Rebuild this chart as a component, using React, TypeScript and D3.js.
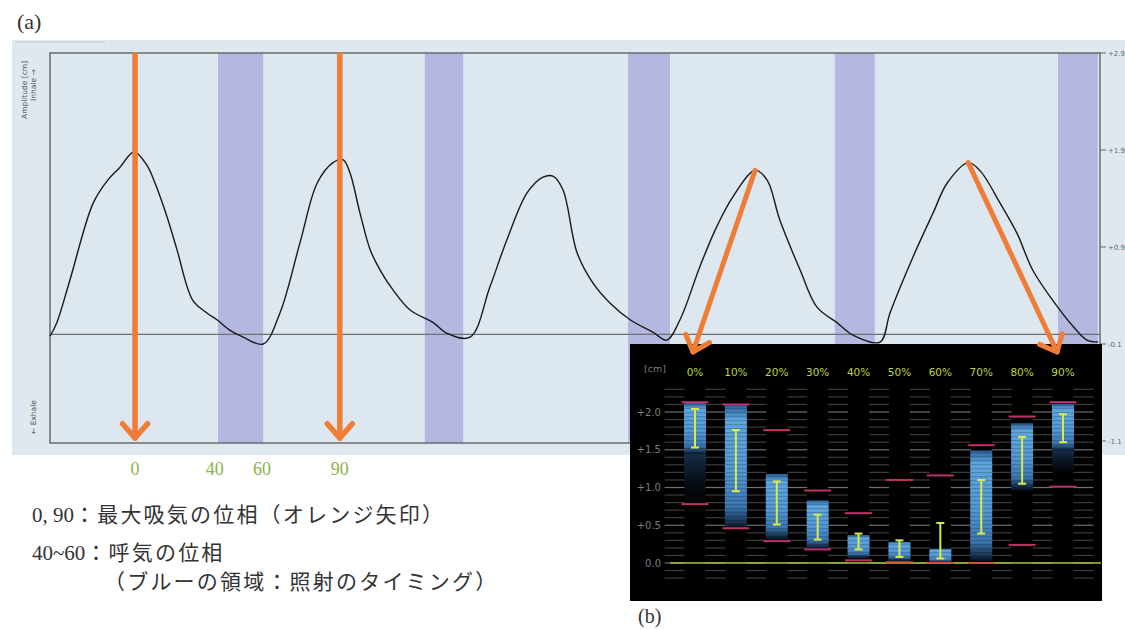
import React from "react";
import * as d3 from "d3";

// ---------- Panel (a): respiratory waveform ----------
const waveTime = [0, 0.13, 0.38, 0.82, 1.10, 1.33, 1.60, 1.85, 2.00, 2.23, 2.42, 2.72, 2.99, 3.18, 3.43, 3.68, 4.06,
  4.38, 4.76, 5.09, 5.39, 5.58, 5.71, 5.90, 6.10, 6.29, 6.53, 6.86, 7.30, 7.56, 8.00,
  8.38, 8.70, 9.09, 9.39, 9.58, 9.77, 10.04, 10.34, 10.67, 11.05, 11.49, 11.75,
  12.00, 12.38, 12.70, 13.01, 13.43, 13.66, 13.90, 14.29, 14.61, 14.99, 15.30, 15.81,
  16.00, 16.44, 16.82, 17.09, 17.49, 17.71, 18.10, 18.42, 18.72, 19.10, 19.49, 19.75, 19.96];
const waveAmp = [-0.02, 0.12, 0.56, 1.35, 1.59, 1.72, 1.88, 1.74, 1.56, 1.21, 0.87, 0.35, 0.22, 0.15, 0.04, -0.03, -0.10,
  0.22, 0.94, 1.56, 1.77, 1.80, 1.67, 1.26, 0.87, 0.66, 0.46, 0.25, 0.12, 0.01, -0.03,
  0.49, 0.97, 1.46, 1.62, 1.63, 1.49, 0.84, 0.53, 0.32, 0.15, 0.02, -0.06,
  0.15, 0.70, 1.11, 1.42, 1.69, 1.59, 1.18, 0.66, 0.28, 0.12, -0.01, -0.08,
  0.22, 0.80, 1.25, 1.56, 1.77, 1.69, 1.35, 1.04, 0.66, 0.35, 0.08, -0.06, -0.08];

// exhale gating windows (blue bands), seconds
const bandStart = [3.2, 7.14, 11.01, 14.95, 19.2];
const bandEnd = [4.06, 7.87, 11.81, 15.71, 19.96];

// right axis tick labels
const ampTicks = [2.9, 1.9, 0.9, -0.1, -1.1];
const ampTickLabels = ["+2.9", "+1.9", "+0.9", "-0.1", "-1.1"];

// vertical arrows at max-inhale peaks (time), and phase labels
const peakArrowTimes = [1.62, 5.52];
const phaseLabels = ["0", "40", "60", "90"];
const phaseLabelTimes = [1.62, 3.14, 4.04, 5.52];

// diagonal arrows: from peaks to the (b) columns
const diagFromTime = [13.43, 17.49];
const diagFromAmp = [1.69, 1.77];
const diagToPhase = ["0%", "90%"];

// ---------- Panel (b): phase-binned amplitude ----------
const phases = ["0%", "10%", "20%", "30%", "40%", "50%", "60%", "70%", "80%", "90%"];
const magTop = [2.13, 2.10, 1.76, 0.96, 0.66, 1.10, 1.16, 1.56, 1.94, 2.13];
const magBot = [0.78, 0.46, 0.29, 0.18, 0.035, 0.01, 0.0, 0.0, 0.24, 1.01];
const blueTop = [2.12, 2.09, 1.18, 0.83, 0.37, 0.28, 0.19, 1.49, 1.85, 2.11];
const blueBot = [1.45, 0.50, 0.34, 0.21, 0.08, 0.04, 0.01, 0.06, 1.00, 1.49];
const tailBot = [0.85, 0.46, 0.30, 0.18, 0.05, 0.02, 0.0, 0.02, 0.95, 1.20];
const errTop = [2.04, 1.76, 1.08, 0.64, 0.39, 0.30, 0.53, 1.10, 1.67, 1.97];
const errBot = [1.53, 0.95, 0.51, 0.31, 0.18, 0.08, 0.06, 0.39, 1.05, 1.60];
const cmTicks = [2.0, 1.5, 1.0, 0.5, 0.0];
const cmTickLabels = ["+2.0", "+1.5", "+1.0", "+0.5", "0.0"];

const ORANGE = "#ef7d35";
const SERIF = "'Liberation Serif', 'DejaVu Serif', 'Noto Sans CJK JP', serif";
const JP = "'Liberation Serif', 'Noto Sans CJK JP', serif";

function Arrow({ x1, y1, x2, y2, w }: { x1: number; y1: number; x2: number; y2: number; w: number }) {
  const ang = Math.atan2(y2 - y1, x2 - x1);
  const L = 19;
  const a1 = ang + Math.PI - 0.72;
  const a2 = ang + Math.PI + 0.72;
  const p1 = [x2 + L * Math.cos(a1), y2 + L * Math.sin(a1)];
  const p2 = [x2 + L * Math.cos(a2), y2 + L * Math.sin(a2)];
  return (
    <g stroke={ORANGE} strokeWidth={w} fill="none" strokeLinecap="round" strokeLinejoin="round">
      <line x1={x1} y1={y1} x2={x2} y2={y2} />
      <polyline points={`${p1[0]},${p1[1]} ${x2},${y2} ${p2[0]},${p2[1]}`} />
    </g>
  );
}

export default function App() {
  const xA = d3.scaleLinear().domain([0, 20]).range([50, 1100]);
  const yA = d3.scaleLinear().domain([-1.1, 2.9]).range([441, 53]);
  const frameTop = 53, frameBot = 443, frameL = 50, frameR = 1100;

  const wave = waveTime.map((t, i) => [t, waveAmp[i]] as [number, number]);
  const lineGen = d3.line<[number, number]>().x(d => xA(d[0])).y(d => yA(d[1])).curve(d3.curveCatmullRom.alpha(0.5));

  const xB = d3.scalePoint<string>().domain(phases).range([695, 1063]);
  const yB = d3.scaleLinear().domain([0, 2]).range([563, 412]);
  const step = xB.step();
  const barW = 22, magW = 27, capW = 8;
  const bBox = { x: 630, y: 344, w: 472, h: 257 };

  const gridLevels = d3.range(-2, 24).map(v => v / 10);

  return (
    <div style={{ position: "absolute", left: 0, top: 0 }}>
      <svg width={1125} height={630} style={{ display: "block", background: "#fff" }}>
        <defs>
          <linearGradient id="bgrad" x1="0" y1="0" x2="0" y2="1">
            <stop offset="0%" stopColor="#2b5f95" />
            <stop offset="12%" stopColor="#5ea5de" />
            <stop offset="55%" stopColor="#5398d4" />
            <stop offset="85%" stopColor="#3a74ae" />
            <stop offset="100%" stopColor="#10253f" />
          </linearGradient>
          <linearGradient id="tgrad" x1="0" y1="0" x2="0" y2="1">
            <stop offset="0%" stopColor="#1c3a5e" stopOpacity="0.8" />
            <stop offset="100%" stopColor="#0a1522" stopOpacity="0.2" />
          </linearGradient>
          <pattern id="stripes" width="4" height="4" patternUnits="userSpaceOnUse">
            <rect width="4" height="1.2" fill="#000" opacity="0.18" />
          </pattern>
        </defs>

        {/* (a) label */}
        <text x={17} y={29} fontFamily={SERIF} fontSize={22} fill="#333">(a)</text>

        {/* outer software panel */}
        <rect x={12} y={40} width={1113} height={415} fill="#dfe8ef" />
        <line x1={15} y1={42} x2={105} y2={42} stroke="#c9d2da" strokeWidth={1.5} />
        {/* plot area */}
        <rect x={frameL} y={frameTop} width={frameR - frameL} height={frameBot - frameTop} fill="#dde7ef" />
        {bandStart.map((s, i) => (
          <rect key={i} x={xA(s)} y={frameTop} width={xA(bandEnd[i]) - xA(s)} height={frameBot - frameTop} fill="#b4b7df" />
        ))}
        {/* baseline */}
        <line x1={frameL} x2={frameR} y1={yA(0)} y2={yA(0)} stroke="#707070" strokeWidth={1.2} />
        <rect x={frameL} y={frameTop} width={frameR - frameL} height={frameBot - frameTop} fill="none" stroke="#6b6b6b" strokeWidth={1.5} />

        {/* right axis */}
        {ampTicks.map((v, i) => (
          <g key={i}>
            <line x1={frameR} x2={frameR + 6} y1={yA(v)} y2={yA(v)} stroke="#666" />
            <text x={frameR + 8} y={yA(v) + 2.5} fontFamily="'DejaVu Sans', sans-serif" fontSize={7} fill="#666">{ampTickLabels[i]}</text>
          </g>
        ))}

        {/* left rotated labels */}
        <text transform={`translate(27,119) rotate(-90)`} fontFamily="'DejaVu Sans', sans-serif" fontSize={7.5} fill="#555">Amplitude [cm]</text>
        <text transform={`translate(36,101) rotate(-90)`} fontFamily="'DejaVu Sans', sans-serif" fontSize={7.5} fill="#555">Inhale →</text>
        <text transform={`translate(36,434) rotate(-90)`} fontFamily="'DejaVu Sans', sans-serif" fontSize={7.5} fill="#555">← Exhale</text>

        {/* waveform */}
        <path d={lineGen(wave) || ""} fill="none" stroke="#1a1a1a" strokeWidth={1.4} />

        {/* vertical arrows */}
        {peakArrowTimes.map((t, i) => (
          <Arrow key={i} x1={xA(t)} y1={frameTop + 2} x2={xA(t)} y2={frameBot - 5} w={5.5} />
        ))}

        {/* phase labels under axis */}
        {phaseLabels.map((l, i) => (
          <text key={i} x={xA(phaseLabelTimes[i])} y={475} textAnchor="middle" fontFamily={SERIF} fontSize={18} fill="#8db14c">{l}</text>
        ))}

        {/* Japanese notes */}
        <text x={32} y={522} fontFamily={JP} fontSize={21} fill="#333">0, 90<tspan letterSpacing={2.2}>：最大吸気の位相（オレンジ矢印）</tspan></text>
        <text x={32} y={560} fontFamily={JP} fontSize={21} fill="#333">40~60<tspan letterSpacing={2.2}>：呼気の位相</tspan></text>
        <text x={104} y={589} fontFamily={JP} fontSize={21} fill="#333" letterSpacing={2.2}>（ブルーの領域：照射のタイミング）</text>

        {/* ---------- panel (b) ---------- */}
        <rect x={bBox.x} y={bBox.y} width={bBox.w} height={bBox.h} fill="#000" />
        {/* grid dashes */}
        {gridLevels.map((v, j) => {
          const major = Math.abs(Math.round(v * 2) - v * 2) < 1e-6;
          return (
            <g key={j}>
              {d3.range(-1, 10).map(i => {
                const c = (i < 0 ? xB(phases[0])! - step : xB(phases[i])!) + step / 2;
                return (
                  <line key={i} x1={c - 10} x2={c + 10} y1={yB(v)} y2={yB(v)}
                    stroke={major ? "#6e6e6e" : "#3c3c3c"} strokeWidth={1.2} />
                );
              })}
            </g>
          );
        })}
        {/* y labels */}
        <text x={655} y={372} fontFamily="'DejaVu Sans', sans-serif" fontSize={9.5} fill="#7d7d7d" textAnchor="middle">[cm]</text>
        {cmTicks.map((v, i) => (
          <text key={i} x={661} y={yB(v) + 3.5} fontFamily="'DejaVu Sans', sans-serif" fontSize={10} fill="#7d7d7d" textAnchor="end">{cmTickLabels[i]}</text>
        ))}
        {/* column labels */}
        {phases.map(p => (
          <text key={p} x={xB(p)} y={376} fontFamily="'DejaVu Sans', sans-serif" fontSize={10.5} fill="#bfd445" textAnchor="middle">{p}</text>
        ))}
        {/* bars */}
        {phases.map((p, i) => {
          const cx = xB(p)!;
          return (
            <g key={p}>
              {tailBot[i] < blueBot[i] && (
                <rect x={cx - barW / 2} y={yB(blueBot[i])} width={barW} height={yB(tailBot[i]) - yB(blueBot[i])} fill="url(#tgrad)" />
              )}
              <rect x={cx - barW / 2} y={yB(blueTop[i])} width={barW} height={yB(blueBot[i]) - yB(blueTop[i])} fill="url(#bgrad)" />
              <rect x={cx - barW / 2} y={yB(blueTop[i])} width={barW} height={yB(blueBot[i]) - yB(blueTop[i])} fill="url(#stripes)" />
            </g>
          );
        })}
        {/* green zero line */}
        <line x1={670} x2={1101} y1={yB(0)} y2={yB(0)} stroke="#a4c43c" strokeWidth={1.6} />
        {/* min/max markers and error bars */}
        {phases.map((p, i) => {
          const cx = xB(p)!;
          return (
            <g key={p}>
              <line x1={cx - magW / 2} x2={cx + magW / 2} y1={yB(magTop[i])} y2={yB(magTop[i])} stroke="#c2306b" strokeWidth={2} />
              <line x1={cx - magW / 2} x2={cx + magW / 2} y1={yB(magBot[i])} y2={yB(magBot[i])} stroke={magBot[i] < 0.02 ? "#d0503a" : "#c2306b"} strokeWidth={2} />
              <g stroke="#d8ea4a" strokeWidth={2}>
                <line x1={cx} x2={cx} y1={yB(errTop[i])} y2={yB(errBot[i])} />
                <line x1={cx - capW / 2} x2={cx + capW / 2} y1={yB(errTop[i])} y2={yB(errTop[i])} />
                <line x1={cx - capW / 2} x2={cx + capW / 2} y1={yB(errBot[i])} y2={yB(errBot[i])} />
              </g>
            </g>
          );
        })}

        {/* diagonal arrows into (b) */}
        {diagFromTime.map((t, i) => (
          <Arrow key={i} x1={xA(t)} y1={yA(diagFromAmp[i])} x2={xB(diagToPhase[i])! + (i === 0 ? -2 : -6)} y2={352} w={5} />
        ))}

        <text x={638} y={623} fontFamily={SERIF} fontSize={20} fill="#333">(b)</text>
      </svg>
    </div>
  );
}
